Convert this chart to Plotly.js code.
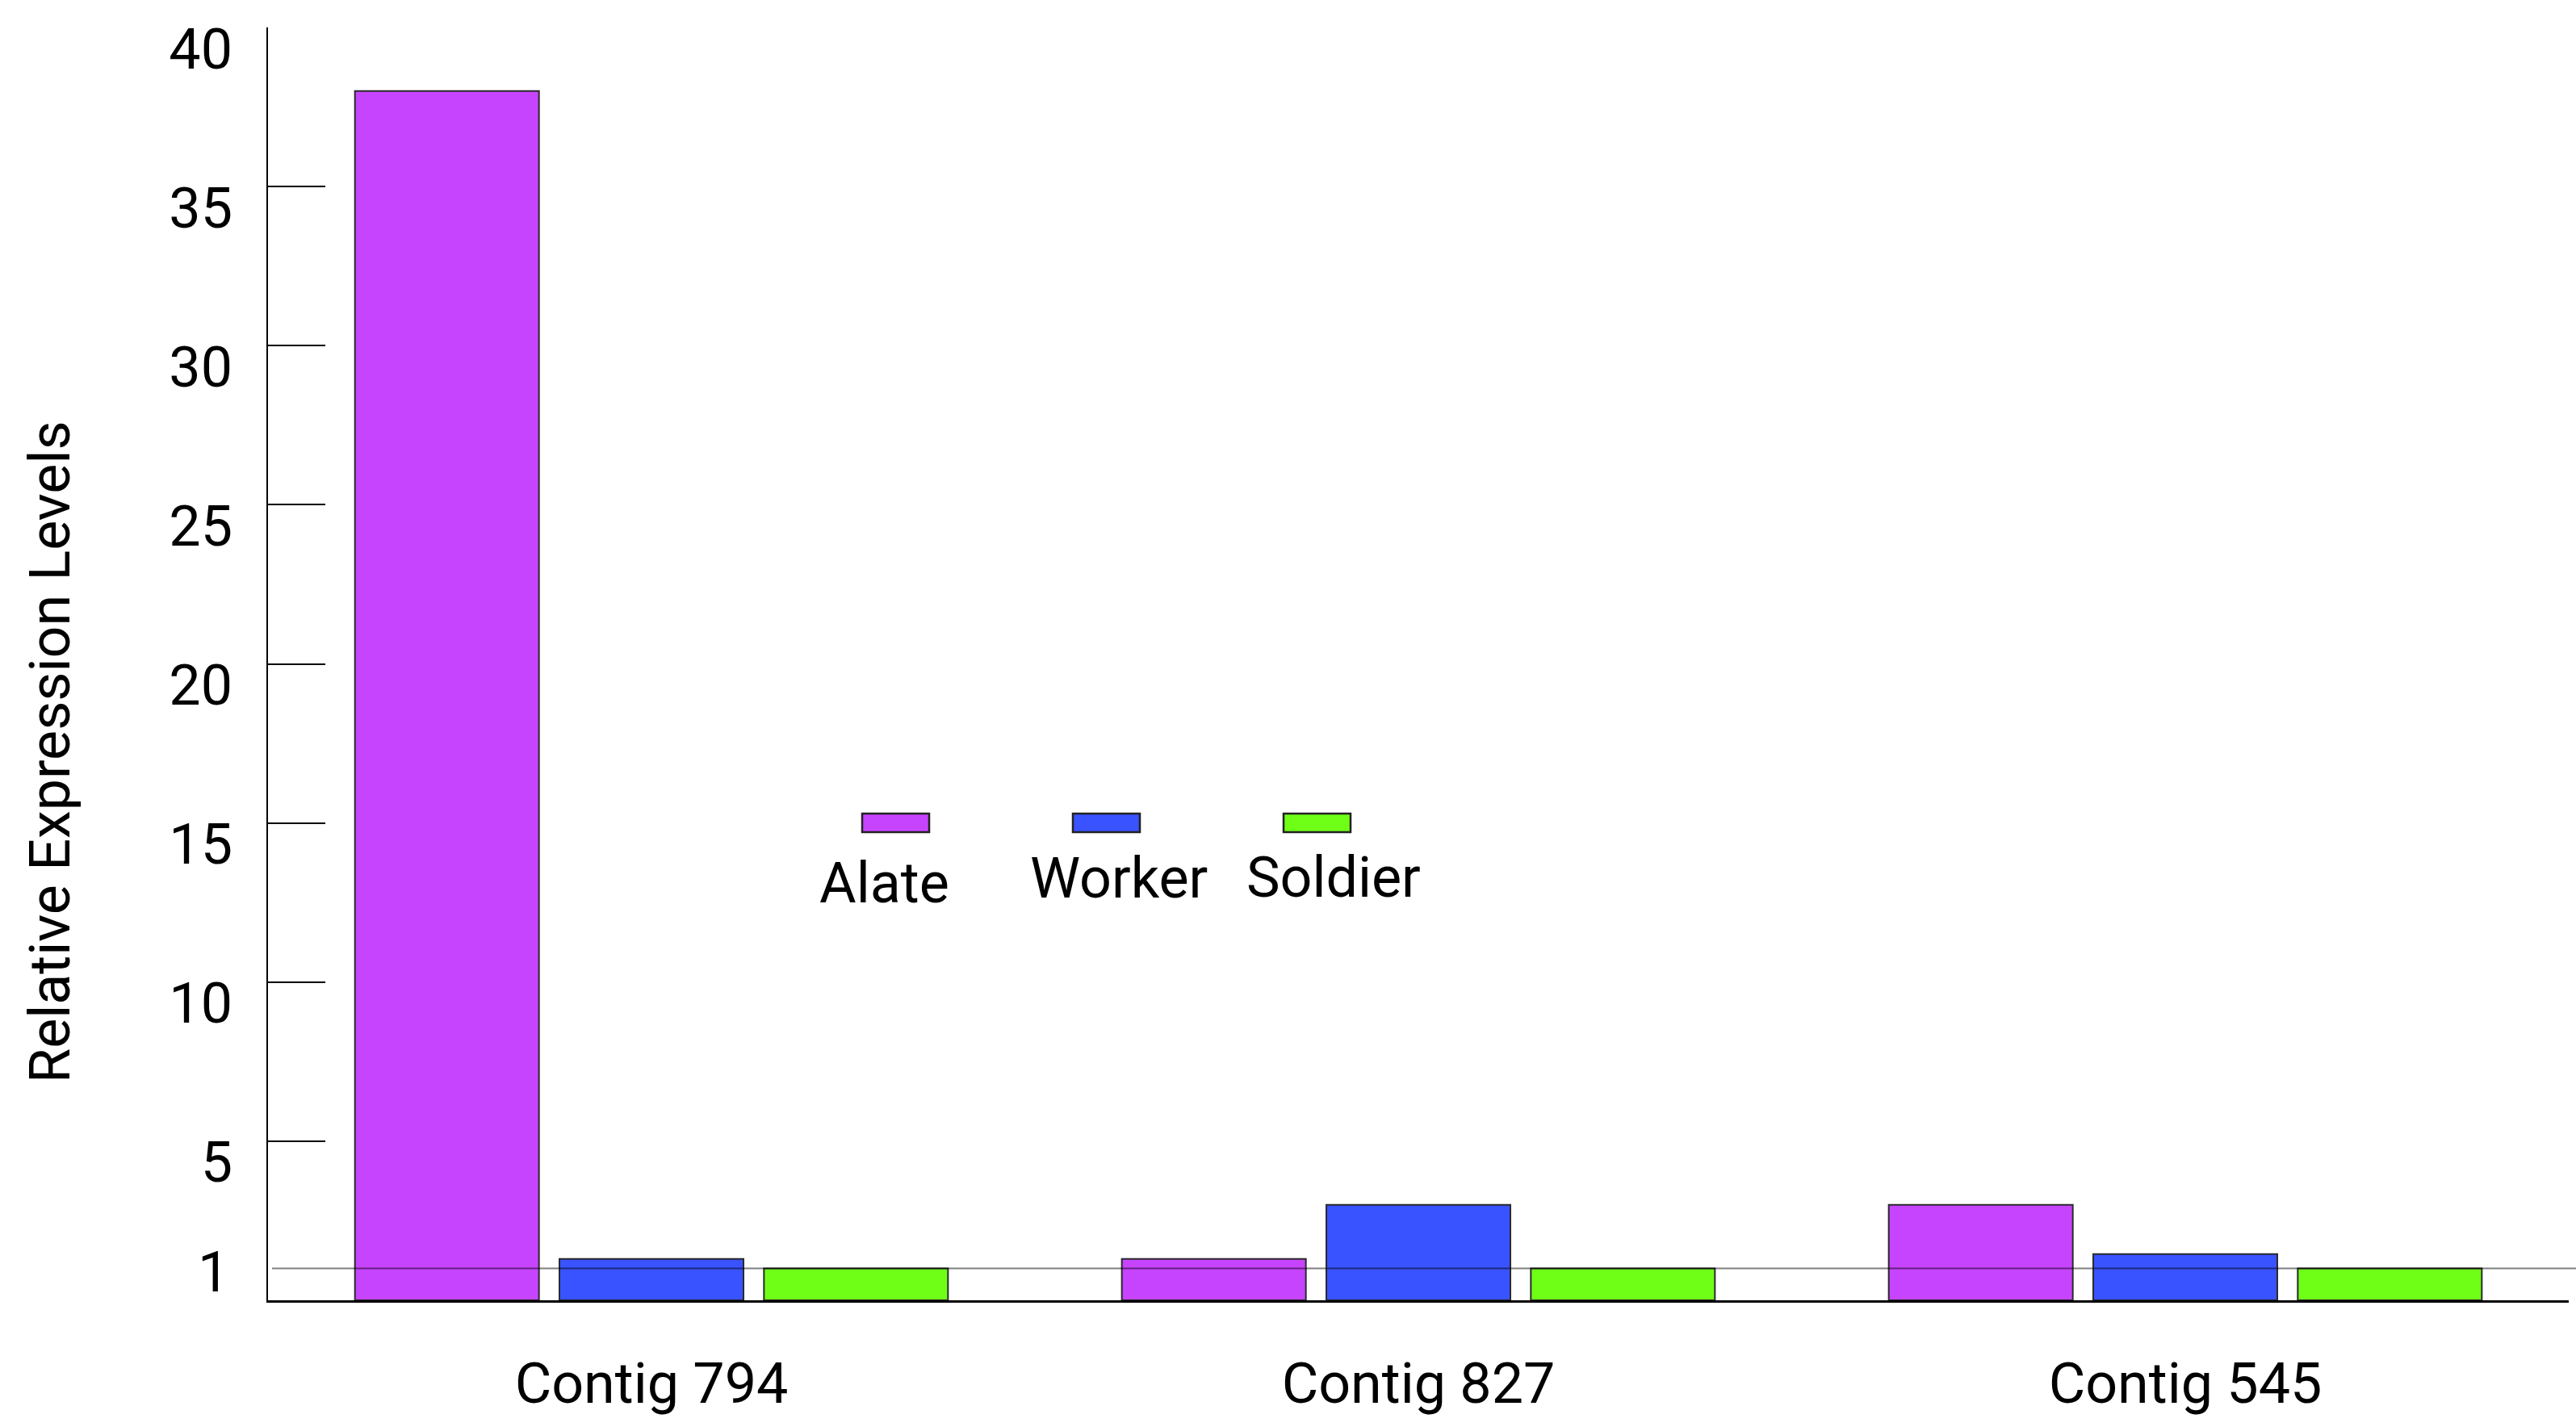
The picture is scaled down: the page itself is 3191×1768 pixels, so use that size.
<!DOCTYPE html>
<html>
<head>
<meta charset="utf-8">
<script src="https://cdn.plot.ly/plotly-3.0.1.min.js"></script>
<style>
  html, body { margin: 0; padding: 0; background: #fff; }
  #chart { width: 3191px; height: 1768px; }
</style>
</head>
<body>
<div id="chart"></div>
<script>
// ── Datos ────────────────────────────────────────────────────────────────────
const contigs = ['Contig 794', 'Contig 827', 'Contig 545'];
const castes  = ['Alate', 'Worker', 'Soldier'];
const alate   = [38.0, 1.3, 3.0];
const worker  = [1.3, 3.0, 1.45];
const soldier = [1.0, 1.0, 1.0];
const yTicks  = [5, 10, 15, 20, 25, 30, 35, 40];
const refLevel = 1;

// ── Estilo ───────────────────────────────────────────────────────────────────
const COLORS = ['#C744FF', '#3853FF', '#6FFF17'];
const FONT   = 'Roboto, "Open Sans", sans-serif';
const FS     = 70;
const W = 3191, H = 1768;
const M = { l: 332, r: 9, t: 34, b: 157 };
const PW = W - M.l - M.r, PH = H - M.t - M.b;

// píxeles de página → coordenadas paper
const px = v => (v - M.l) / PW;
const py = v => (H - M.b - v) / PH;

const series = [alate, worker, soldier];

const traces = series.map((vals, i) => ({
  type: 'bar',
  name: castes[i],
  x: contigs,
  y: vals,
  marker: { color: COLORS[i], line: { color: '#2a2a2a', width: 2 } },
  hoverinfo: 'skip',
}));

// ── Leyenda manual (muestra encima, texto debajo) ────────────────────────────
const LEG_X0 = 1068, LEG_STEP = 261, LEG_W = 83, LEG_H = 23, LEG_TOP = 1008;
const LEG_TXT_DX = [-14, 15, 20];
const LEG_TXT_Y  = [1094, 1088, 1087];

const shapes = [];
const annotations = [];

castes.forEach((name, i) => {
  const x0 = LEG_X0 + i * LEG_STEP;
  shapes.push({
    type: 'rect', xref: 'paper', yref: 'paper',
    x0: px(x0), x1: px(x0 + LEG_W), y0: py(LEG_TOP + LEG_H), y1: py(LEG_TOP),
    fillcolor: COLORS[i], line: { color: '#222', width: 2.5 },
  });
  annotations.push({
    xref: 'paper', yref: 'paper',
    x: px(x0 + LEG_W / 2 + LEG_TXT_DX[i]), y: py(LEG_TXT_Y[i]),
    xanchor: 'center', yanchor: 'middle', showarrow: false,
    text: name, font: { family: FONT, size: FS, color: '#000' },
  });
});

// línea de referencia en 1 (encima de las barras)
shapes.push({
  type: 'line', xref: 'paper', yref: 'y', layer: 'above',
  x0: px(337), x1: px(W), y0: refLevel, y1: refLevel,
  line: { color: 'rgba(0,0,0,0.5)', width: 2 },
});

annotations.push({
  xref: 'paper', yref: 'y', x: px(286), y: refLevel, yshift: -4,
  xanchor: 'right', yanchor: 'middle', showarrow: false,
  text: String(refLevel), font: { family: FONT, size: FS, color: '#000' },
});

// título del eje Y
annotations.push({
  xref: 'paper', yref: 'paper', x: px(62), y: py(932),
  xanchor: 'center', yanchor: 'middle', showarrow: false, textangle: -90,
  text: 'Relative Expression Levels', font: { family: FONT, size: FS, color: '#000' },
});

const layout = {
  width: W, height: H,
  margin: M,
  paper_bgcolor: '#fff', plot_bgcolor: '#fff',
  font: { family: FONT, size: FS, color: '#000' },
  showlegend: false,
  barmode: 'group', bargap: 0.2, bargroupgap: 0.1,
  xaxis: {
    type: 'category', range: [-0.5, 2.5],
    showline: true, linecolor: '#000', linewidth: 2.5,
    ticks: '', showgrid: false, zeroline: false,
    tickfont: { family: FONT, size: FS, color: '#000' },
    ticklabelstandoff: 40,
  },
  yaxis: {
    range: [0, 40], tickvals: yTicks,
    showline: true, linecolor: '#000', linewidth: 2,
    ticks: 'inside', ticklen: 71, tickwidth: 2, tickcolor: '#000',
    showgrid: false, zeroline: false,
    tickfont: { family: FONT, size: FS, color: '#000' },
    ticklabelshift: 26, ticklabelstandoff: 28,
  },
  shapes, annotations,
};

Plotly.newPlot('chart', traces, layout, { displayModeBar: false, staticPlot: true });
</script>
</body>
</html>
